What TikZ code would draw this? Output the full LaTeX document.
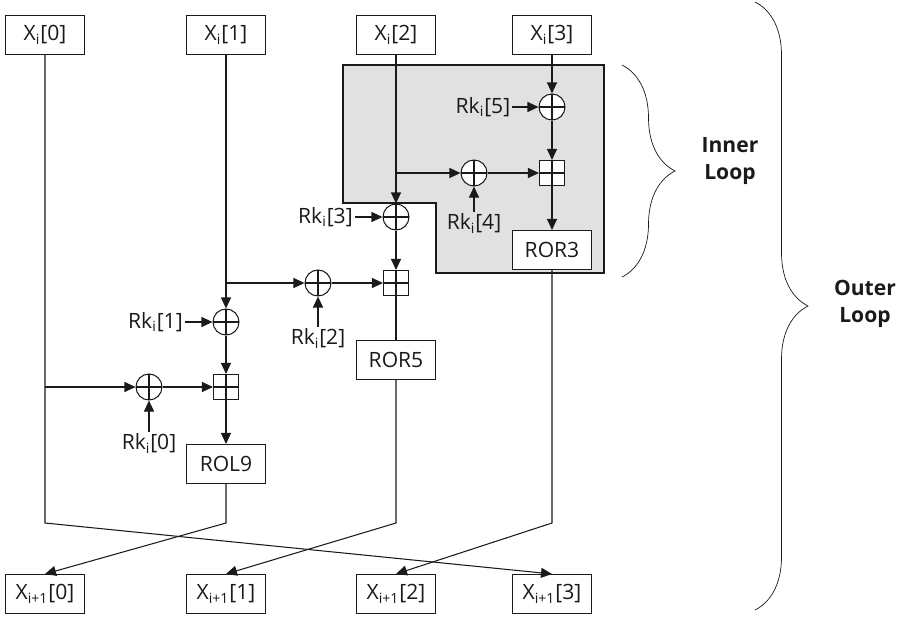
\documentclass[tikz,border=0pt]{standalone}
\usepackage{fontspec}
\setmainfont{Open Sans}
\usepackage{tikz}
\usetikzlibrary{arrows.meta, positioning, decorations.pathreplacing}
\definecolor{loopgray}{HTML}{E1E1E1}
\definecolor{inkmain}{HTML}{1A1A1A}
\tikzstyle{wordbox} = [draw=inkmain, fill=white, minimum width=1.58cm, minimum height=0.78cm, inner sep=0pt]
\tikzstyle{xorop} = [draw=inkmain, fill=white, circle, minimum size=0.52cm, inner sep=0pt, path picture={\draw[inkmain] (path picture bounding box.north) -- (path picture bounding box.south) (path picture bounding box.west) -- (path picture bounding box.east);}]
\tikzstyle{addop} = [draw=inkmain, fill=white, rectangle, minimum size=0.5cm, inner sep=0pt, path picture={\draw[inkmain] (path picture bounding box.north) -- (path picture bounding box.south) (path picture bounding box.west) -- (path picture bounding box.east);}]
\tikzstyle{keylbl} = [inner sep=1pt]
\tikzstyle{looplbl} = [font=\fontsize{12}{15}\selectfont\bfseries, align=center]
\tikzstyle{arrow} = [-{Triangle[length=0.22cm, width=0.2cm]}]
\tikzstyle{loopbrace} = [decorate, decoration={brace, amplitude=1.06cm}, thin]

\begin{document}
\begin{tikzpicture}[line width=0.6pt, color=inkmain, every node/.style={font=\fontsize{12}{15}\selectfont, text=inkmain}]
    \useasboundingbox (0,0) rectangle (18.04,-12.38);

    % inner loop area
    \fill[loopgray, draw=inkmain] (6.86,-1.3) -- (12.08,-1.3) -- (12.08,-5.46) -- (8.72,-5.46) -- (8.72,-4.06) -- (6.86,-4.06) -- cycle;

    % input words
    \node[wordbox] (x0) at (0.9,-0.7) {X\textsubscript{i}[0]};
    \node[wordbox] (x1) at (4.52,-0.7) {X\textsubscript{i}[1]};
    \node[wordbox] (x2) at (7.92,-0.7) {X\textsubscript{i}[2]};
    \node[wordbox] (x3) at (11.04,-0.7) {X\textsubscript{i}[3]};

    % output words
    \node[wordbox] (y0) at (0.9,-11.88) {X\textsubscript{i+1}[0]};
    \node[wordbox] (y1) at (4.52,-11.88) {X\textsubscript{i+1}[1]};
    \node[wordbox] (y2) at (7.92,-11.88) {X\textsubscript{i+1}[2]};
    \node[wordbox] (y3) at (11.04,-11.88) {X\textsubscript{i+1}[3]};

    % inner loop operations
    \node[xorop] (xor5) at (11.04,-2.14) {};
    \node[keylbl, left=0.52cm of xor5] (rk5) {Rk\textsubscript{i}[5]};
    \node[addop] (add3) at (11.04,-3.46) {};
    \node[xorop] (xor4) at (9.48,-3.46) {};
    \node[keylbl, below=0.5cm of xor4] (rk4) {Rk\textsubscript{i}[4]};
    \node[wordbox] (ror3) at (11.04,-5.0) {ROR3};

    % word 2 operations
    \node[xorop] (xor3) at (7.92,-4.34) {};
    \node[keylbl, left=0.55cm of xor3] (rk3) {Rk\textsubscript{i}[3]};
    \node[addop] (add2) at (7.92,-5.66) {};
    \node[xorop] (xor2) at (6.36,-5.66) {};
    \node[keylbl, below=0.6cm of xor2] (rk2) {Rk\textsubscript{i}[2]};
    \node[wordbox] (ror5) at (7.92,-7.2) {ROR5};

    % word 1 operations
    \node[xorop] (xor1) at (4.52,-6.44) {};
    \node[keylbl, left=0.55cm of xor1] (rk1) {Rk\textsubscript{i}[1]};
    \node[addop] (add1) at (4.52,-7.74) {};
    \node[xorop] (xor0) at (2.98,-7.74) {};
    \node[keylbl, below=0.62cm of xor0] (rk0) {Rk\textsubscript{i}[0]};
    \node[wordbox] (rol9) at (4.52,-9.28) {ROL9};

    % branch and bend points
    \coordinate (b2) at (7.92,-3.46);
    \coordinate (b1) at (4.52,-5.66);
    \coordinate (b0) at (0.9,-7.74);
    \coordinate (t0) at (0.9,-10.46);
    \coordinate (t1) at (4.52,-10.46);
    \coordinate (t2) at (7.92,-10.46);
    \coordinate (t3) at (11.04,-10.46);

    % word 3 path
    \draw[arrow] (x3) -- (xor5);
    \draw[arrow] (rk5) -- (xor5);
    \draw[arrow] (xor5) -- (add3);
    \draw[arrow] (add3) -- (ror3);
    \draw[arrow] (ror3) -- (t3) -- (y2.north);

    % word 2 path
    \draw[arrow] (x2) -- (xor3);
    \draw[arrow] (b2) -- (xor4);
    \draw[arrow] (rk4) -- (xor4);
    \draw[arrow] (xor4) -- (add3);
    \draw[arrow] (rk3) -- (xor3);
    \draw[arrow] (xor3) -- (add2);
    \draw (add2) -- (ror5);
    \draw[arrow] (ror5) -- (t2) -- (y1.north);

    % word 1 path
    \draw[arrow] (x1) -- (xor1);
    \draw[arrow] (b1) -- (xor2);
    \draw[arrow] (rk2) -- (xor2);
    \draw[arrow] (xor2) -- (add2);
    \draw[arrow] (rk1) -- (xor1);
    \draw[arrow] (xor1) -- (add1);
    \draw[arrow] (add1) -- (rol9);
    \draw[arrow] (rol9) -- (t1) -- (y0.north);

    % word 0 path
    \draw[arrow] (b0) -- (xor0);
    \draw[arrow] (rk0) -- (xor0);
    \draw[arrow] (xor0) -- (add1);
    \draw[arrow] (x0) -- (t0) -- (y3.north);

    % loop braces
    \coordinate (ib1) at (12.44,-1.3);
    \coordinate (ib2) at (12.44,-5.54);
    \coordinate (ob1) at (15.1,-0.04);
    \coordinate (ob2) at (15.1,-12.2);
    \draw[loopbrace] (ib1) -- (ib2);
    \draw[loopbrace] (ob1) -- (ob2);
    \node[looplbl] (inner) at (14.6,-3.22) {Inner\\Loop};
    \node[looplbl] (outer) at (17.3,-6.08) {Outer\\Loop};
\end{tikzpicture}
\end{document}
